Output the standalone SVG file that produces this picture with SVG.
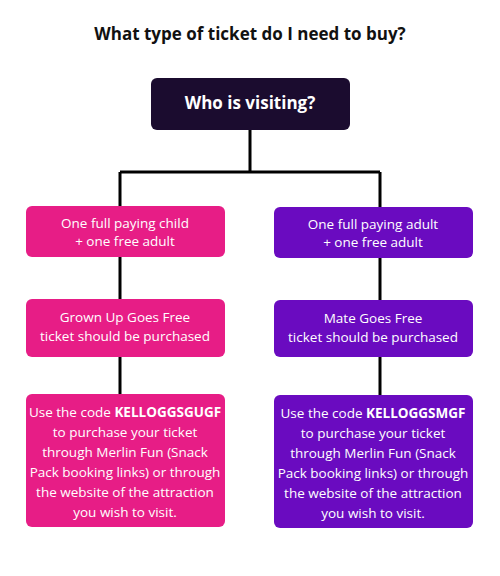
<svg xmlns="http://www.w3.org/2000/svg" width="500" height="576" viewBox="0 0 500 576">
<style>
text{font-family:"Open Sans","Liberation Sans",sans-serif;text-anchor:middle;fill:#fff}
.t{font-size:13.5px}
.b{font-weight:bold}
.pink{fill:#e71d86}
.purple{fill:#6a0bc0}
.conn{stroke:#000;stroke-width:3;fill:none}
</style>
<rect width="500" height="576" fill="#fff"/>
<text x="250" y="40" class="b" style="font-size:17px;fill:#111">What type of ticket do I need to buy?</text>
<g id="connectors">
<path class="conn" d="M250 130V172M120 172H380M120 172V394M380 172V395"/>
</g>
<g id="who">
<rect x="151" y="78" width="199" height="52" rx="6" fill="#1b0c2f"/>
<text x="250" y="109" class="b" style="font-size:17px">Who is visiting?</text>
</g>
<g id="child">
<rect class="pink" x="26" y="206" width="199" height="51" rx="6"/>
<text class="t" x="125" y="228">One full paying child</text>
<text class="t" x="125" y="246">+ one free adult</text>
</g>
<g id="gugf">
<rect class="pink" x="26" y="299" width="199" height="58" rx="6"/>
<text class="t" x="125" y="322">Grown Up Goes Free</text>
<text class="t" x="125" y="341">ticket should be purchased</text>
</g>
<g id="gugfcode">
<rect class="pink" x="26" y="394" width="199" height="133" rx="6"/>
<text class="t" x="125" y="417">Use the code <tspan class="b">KELLOGGSGUGF</tspan></text>
<text class="t" x="125" y="437">to purchase your ticket</text>
<text class="t" x="125" y="457">through Merlin Fun (Snack</text>
<text class="t" x="125" y="477">Pack booking links) or through</text>
<text class="t" x="125" y="497">the website of the attraction</text>
<text class="t" x="125" y="517">you wish to visit.</text>
</g>
<g id="adult">
<rect class="purple" x="274" y="207" width="199" height="51" rx="6"/>
<text class="t" x="373" y="229">One full paying adult</text>
<text class="t" x="373" y="247">+ one free adult</text>
</g>
<g id="mgf">
<rect class="purple" x="274" y="300" width="199" height="57" rx="6"/>
<text class="t" x="373" y="323">Mate Goes Free</text>
<text class="t" x="373" y="342">ticket should be purchased</text>
</g>
<g id="mgfcode">
<rect class="purple" x="274" y="395" width="199" height="133" rx="6"/>
<text class="t" x="373" y="418">Use the code <tspan class="b">KELLOGGSMGF</tspan></text>
<text class="t" x="373" y="438">to purchase your ticket</text>
<text class="t" x="373" y="458">through Merlin Fun (Snack</text>
<text class="t" x="373" y="478">Pack booking links) or through</text>
<text class="t" x="373" y="498">the website of the attraction</text>
<text class="t" x="373" y="518">you wish to visit.</text>
</g>
</svg>
